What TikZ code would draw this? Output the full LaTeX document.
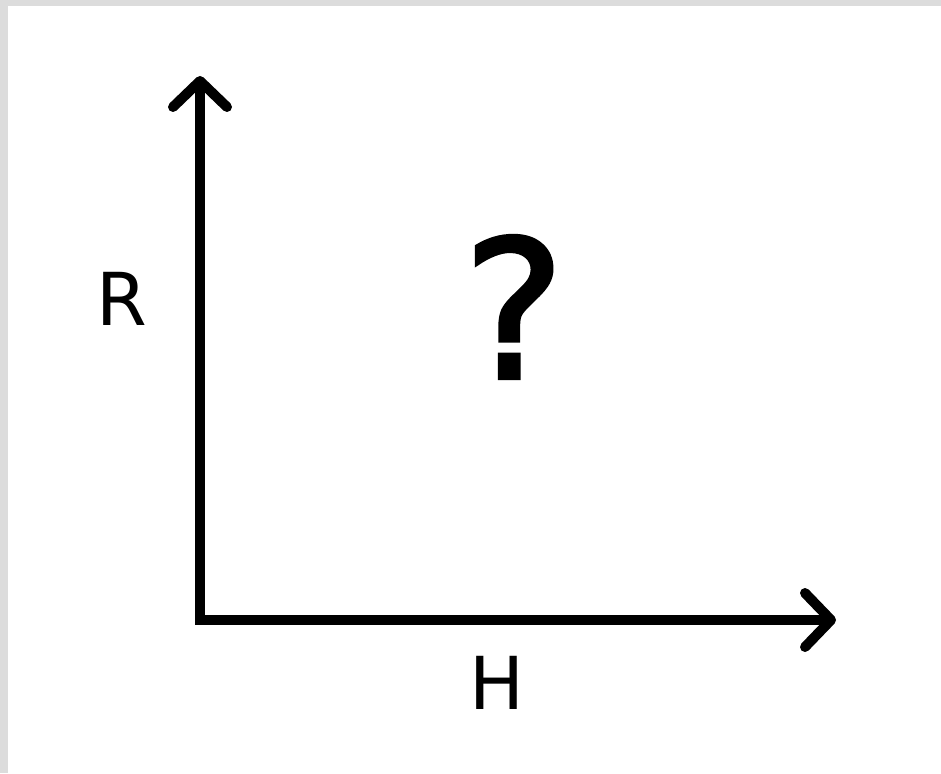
\documentclass[tikz,border=0pt]{standalone}
\usepackage{fontspec}
\setmainfont{DejaVu Sans}
\newfontfamily\markfont[FakeBold=2]{DejaVu Sans}
\usepackage{tikz}
\usetikzlibrary{arrows.meta, positioning}
\definecolor{framegray}{RGB}{220, 220, 220}

\begin{document}
\begin{tikzpicture}[x=1pt, y=-1pt,
    axisline/.style={line width=10pt, line join=miter,
      {Straight Barb[length=26pt, width=54pt, round]}-{Straight Barb[length=26pt, width=54pt, round]}},
    axislabel/.style={inner sep=0pt, font=\fontsize{73}{73}\selectfont},
    unknown/.style={inner sep=0pt, font=\fontsize{192}{192}\markfont}]
    \useasboundingbox (0,0) rectangle (941,773);
    \fill[white] (0,0) rectangle (941,773);
    \fill[framegray] (0,0) rectangle (941,6);
    \fill[framegray] (0,0) rectangle (8,773);
    % axes
    \coordinate (origin) at (200,620);
    \coordinate (rtip) at (200,76);
    \coordinate (htip) at (836,620);
    \draw[axisline] (rtip) -- (origin) -- (htip);
    % labels
    \node[axislabel] (rlabel) at (122,299) {R};
    \node[axislabel] (hlabel) at (497,683) {H};
    \node[unknown] (question) at (514,307) {?};
\end{tikzpicture}
\end{document}
